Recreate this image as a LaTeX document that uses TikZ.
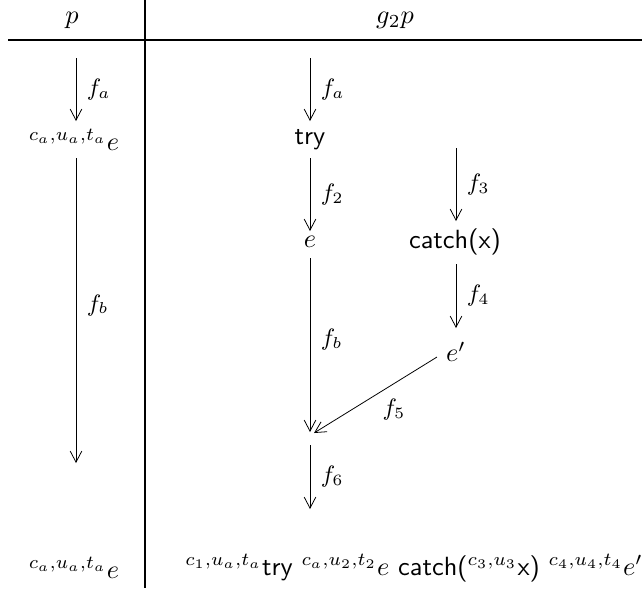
\documentclass[tikz,border=0pt]{standalone}
\usetikzlibrary{arrows.meta}
\begin{document}
\begin{tikzpicture}[x=0.38pt,y=-0.38pt,
  arr/.style={-{Straight Barb[length=4.2pt,width=4.4pt]},line width=0.3pt},
  lab/.style={inner sep=0pt,font=\small},
  rule/.style={line width=0.4pt}]
\useasboundingbox (0,0) rectangle (642,590);
% frame lines
\coordinate (h1) at (8,40);
\coordinate (h2) at (642,40);
\coordinate (v1) at (145,0);
\coordinate (v2) at (145,588);
\draw[rule] (h1) -- (h2);
\draw[rule] (v1) -- (v2);
% headers
\node (hp) at (72,20) {$p$};
\node (hg) at (395,20) {$g_2p$};
% left column
\coordinate (la0) at (76,58);
\coordinate (la1) at (76,121);
\node (le) at (74,140) {$^{c_a,u_a,t_a}e$};
\coordinate (lb0) at (76,158);
\coordinate (lb1) at (76,463);
\node (lbot) at (74,568) {$^{c_a,u_a,t_a}e$};
\draw[arr] (la0) -- node[lab,right=4pt] {$f_a$} (la1);
\draw[arr] (lb0) -- node[lab,right=4pt,yshift=2pt] {$f_b$} (lb1);
% right column
\coordinate (ra0) at (310,58);
\coordinate (ra1) at (310,121);
\node (try) at (310,140) {\textsf{try}};
\coordinate (r20) at (310,158);
\coordinate (r21) at (310,231);
\node (e) at (310,242) {$e$};
\coordinate (r30) at (456,148);
\coordinate (r31) at (456,221);
\node (catch) at (455,242) {\textsf{catch(x)}};
\coordinate (r40) at (456,264);
\coordinate (r41) at (456,328);
\node (ep) at (456,352) {$e'$};
\coordinate (rb0) at (310,258);
\coordinate (rb1) at (310,432);
\coordinate (r50) at (437,357);
\coordinate (r51) at (314,433);
\coordinate (r60) at (310,445);
\coordinate (r61) at (310,509);
\draw[arr] (ra0) -- node[lab,right=4pt] {$f_a$} (ra1);
\draw[arr] (r20) -- node[lab,right=4pt] {$f_2$} (r21);
\draw[arr] (r30) -- node[lab,right=4pt] {$f_3$} (r31);
\draw[arr] (r40) -- node[lab,right=4pt] {$f_4$} (r41);
\draw[arr] (rb0) -- node[lab,right=4pt,yshift=2pt] {$f_b$} (rb1);
\draw[arr] (r50) -- (r51);
\node[lab] (f5) at (394,410) {$f_5$};
\draw[arr] (r60) -- node[lab,right=4pt] {$f_6$} (r61);
% bottom line
\node (rbot) at (414,568) {$^{c_1,u_a,t_a}$\textsf{try} $^{c_a,u_2,t_2}e$ \textsf{catch(}$^{c_3,u_3}$\textsf{x)} $^{c_4,u_4,t_4}e'$};
\end{tikzpicture}
\end{document}
